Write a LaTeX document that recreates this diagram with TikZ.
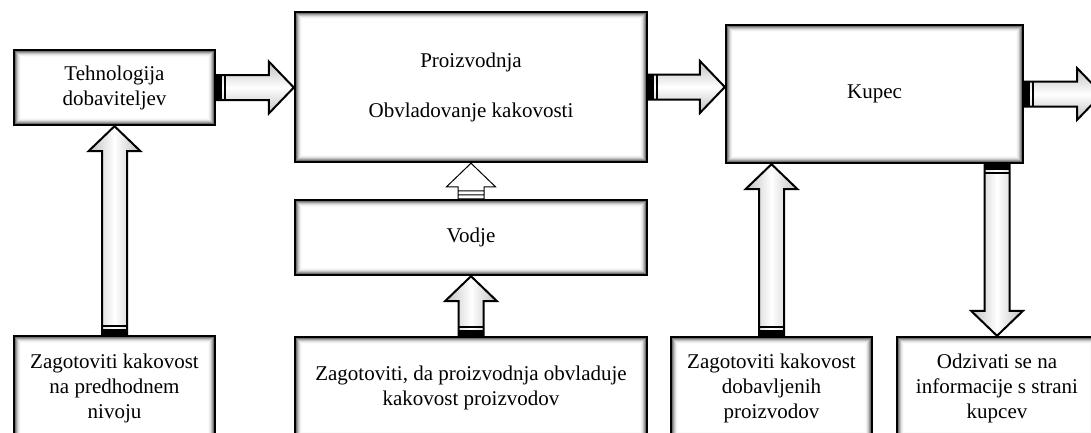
\documentclass[tikz,border=0pt]{standalone}
\usepackage{fontspec}
\setmainfont{Liberation Serif}
\usetikzlibrary{calc}

\tikzset{
  box/.style={draw=black, line width=2.4pt, fill=white, align=center, inner sep=2pt,
    font=\fontsize{21}{25}\selectfont,
    path picture={
      \foreach \d/\c in {1.6/55,2.6/38,3.6/24,4.6/13,5.6/6,6.6/2}{
        \draw[black!\c, line width=1.05pt]
          ([shift={({\d*1pt},{\d*1pt})}]path picture bounding box.south west) rectangle
          ([shift={({-\d*1pt},{-\d*1pt})}]path picture bounding box.north east);
      }}},
  blockarr/.style={draw=black, line width=2pt, line join=miter},
  hshade/.style={top color=black!25, bottom color=black!25, middle color=white},
  vshade/.style={left color=black!25, right color=black!25, middle color=white},
}

% horizontal block arrow: #1 tail point, #2 tip point
\newcommand{\hblock}[2]{%
  \draw[blockarr,hshade] let \p1=(#1), \p2=(#2), \p3=($(#2)!25pt!(#1)$) in
    (\x1,\y1+12.5pt) -- (\x3,\y1+12.5pt) -- (\x3,\y1+26pt) -- (\x2,\y1)
    -- (\x3,\y1-26pt) -- (\x3,\y1-12.5pt) -- (\x1,\y1-12.5pt) -- cycle;
  \fill let \p1=(#1), \p4=($(#1)!5.5pt!(#2)$) in
    (\x1,\y1-12.5pt) rectangle (\x4,\y1+12.5pt);
  \draw[line width=2.2pt] let \p1=(#1), \p5=($(#1)!8.5pt!(#2)$) in
    (\x5,\y1-12.5pt) -- (\x5,\y1+12.5pt);
}

% vertical block arrow: #1 tail point, #2 tip point
\newcommand{\vblock}[2]{%
  \draw[blockarr,vshade] let \p1=(#1), \p2=(#2), \p3=($(#2)!25pt!(#1)$) in
    (\x1-12.5pt,\y1) -- (\x1-12.5pt,\y3) -- (\x1-26pt,\y3) -- (\x1,\y2)
    -- (\x1+26pt,\y3) -- (\x1+12.5pt,\y3) -- (\x1+12.5pt,\y1) -- cycle;
  \fill let \p1=(#1), \p4=($(#1)!5.5pt!(#2)$) in
    (\x1-12.5pt,\y1) rectangle (\x1+12.5pt,\y4);
  \draw[line width=2.2pt] let \p1=(#1), \p5=($(#1)!8.5pt!(#2)$) in
    (\x1-12.5pt,\y5) -- (\x1+12.5pt,\y5);
}

\begin{document}
\begin{tikzpicture}[x=1pt, y=-1pt]
  \clip (0,0) rectangle (1091,432);
  \fill[white] (0,0) rectangle (1091,432);

  % upper row
  \node[box, minimum width=201pt, minimum height=75pt] (t) at (114.5,87.5)
    {Tehnologija\\dobaviteljev};
  \node[box, minimum width=352pt, minimum height=150pt] (p) at (471,87)
    {Proizvodnja\\[25pt]Obvladovanje kakovosti};
  \node[box, minimum width=297pt, minimum height=138pt] (k) at (874.5,94)
    {Kupec};
  \node[box, minimum width=352pt, minimum height=75pt] (v) at (471,237.5)
    {Vodje};

  % lower row
  \node[box, minimum width=201pt, minimum height=104pt] (b1) at (114.5,388)
    {Zagotoviti kakovost\\na predhodnem\\nivoju};
  \node[box, minimum width=352pt, minimum height=102pt] (b2) at (471,388)
    {Zagotoviti, da proizvodnja obvladuje\\kakovost proizvodov};
  \node[box, minimum width=201pt, minimum height=102pt] (b3) at (771.5,388)
    {Zagotoviti kakovost\\dobavljenih\\proizvodov};
  \node[box, minimum width=200pt, minimum height=102pt] (b4) at (997,388)
    {Odzivati se na\\informacije s strani\\kupcev};

  \coordinate (kout) at (1102,94);

  % horizontal flow
  \hblock{t.east}{p.west}
  \hblock{p.east}{k.west}
  \hblock{k.east}{kout}

  % vertical flow
  \vblock{b1.north}{t.south}
  \vblock{b2.north}{v.south}
  \vblock{b3.north}{b3.north |- k.south}
  \vblock{k.south -| b4.north}{b4.north}

  % small arrow from Vodje up to Proizvodnja
  \draw[line width=1pt, fill=white, line join=miter] let \p1=(v.north), \p2=(p.south) in
    (\x1-13pt,\y1) -- (\x1-13pt,\y1+12pt) -- (\x1-24.5pt,\y1+12pt) -- (\x1,\y2)
    -- (\x1+24.5pt,\y1+12pt) -- (\x1+13pt,\y1+12pt) -- (\x1+13pt,\y1) -- cycle
    (\x1-13pt,\y1+8pt) -- (\x1+13pt,\y1+8pt)
    (\x1-13pt,\y1+4pt) -- (\x1+13pt,\y1+4pt);
\end{tikzpicture}
\end{document}
